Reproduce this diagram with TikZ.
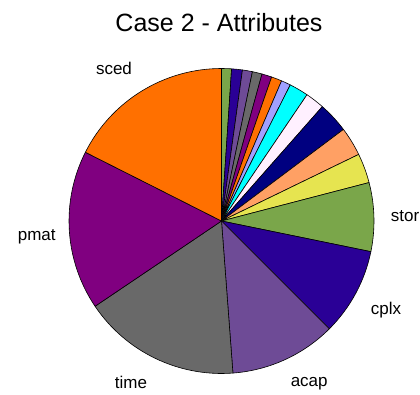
\documentclass[tikz,border=0pt]{standalone}
\usepackage{fontspec}
\setmainfont{Liberation Sans}
\definecolor{cgreen}{RGB}{122,166,74}
\definecolor{cblue}{RGB}{42,0,150}
\definecolor{cviolet}{RGB}{110,75,150}
\definecolor{cgrey}{RGB}{105,105,105}
\definecolor{cpurple}{RGB}{128,0,128}
\definecolor{corange}{RGB}{255,112,0}
\definecolor{clav}{RGB}{160,160,255}
\definecolor{ccyan}{RGB}{0,255,255}
\definecolor{cwhite}{RGB}{255,240,255}
\definecolor{cnavy}{RGB}{0,0,128}
\definecolor{csalmon}{RGB}{255,160,100}
\definecolor{cyellow}{RGB}{230,228,80}
\begin{document}
\begin{tikzpicture}[x=1pt,y=1pt,
  slice/.style={draw=black,line width=0.6pt,line join=round},
  lbl/.style={font=\fontsize{17}{20}\selectfont,anchor=base,inner sep=0pt},
  ttl/.style={font=\fontsize{25}{30}\selectfont,anchor=base,inner sep=0pt}]
\useasboundingbox[fill=white] (0,0) rectangle (420,394);
\coordinate (C) at (221.5,173);
\def\R{152.5}
\foreach \a/\b/\c in {0/3.8/cgreen,3.8/7.9/cblue,7.9/11.7/cviolet,11.7/15.4/cgrey,15.4/19.2/cpurple,19.2/23.2/corange,23.2/26.8/clav,26.8/34.1/ccyan,34.1/41.4/cwhite,41.4/53.1/cnavy,53.1/64.1/csalmon,64.1/75.4/cyellow,75.4/101.6/cgreen,101.6/135/cblue,135/175.7/cviolet,175.7/236/cgrey,236/296.8/cpurple,296.8/360/corange}{
  \pgfmathsetmacro\s{90-\a}
  \pgfmathsetmacro\e{90-\b}
  \filldraw[slice,fill=\c] (C) -- +(\s:\R) arc[start angle=\s,end angle=\e,radius=\R] -- cycle;
}
\node[ttl] (title) at (219,362) {Case 2 - Attributes};
\node[lbl] (sced) at (114,319) {sced};
\node[lbl] (pmat) at (36.7,154) {pmat};
\node[lbl] (time) at (131,6) {time};
\node[lbl] (acap) at (309.2,7.5) {acap};
\node[lbl] (cplx) at (386,79.5) {cplx};
\node[lbl] (stor) at (405,172.3) {stor};
\end{tikzpicture}
\end{document}
